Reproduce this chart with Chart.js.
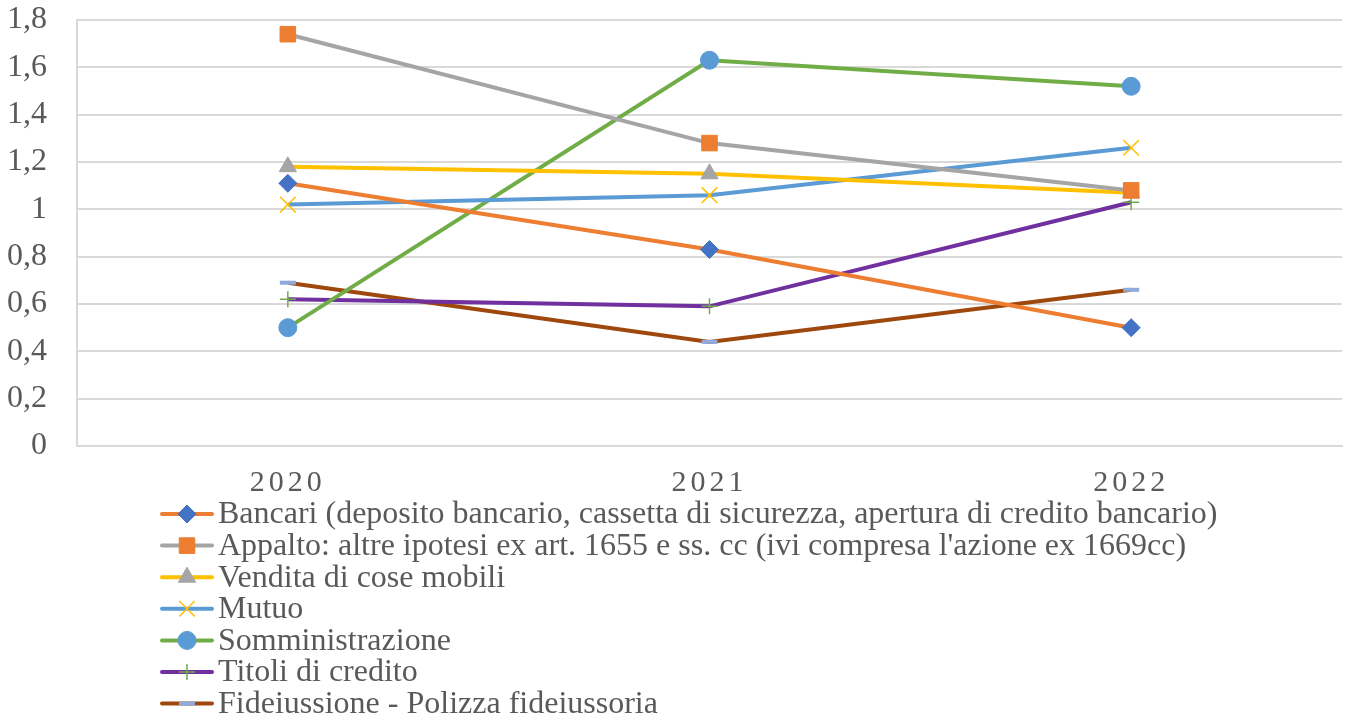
<!DOCTYPE html>
<html>
<head>
<meta charset="utf-8">
<script src="https://cdn.jsdelivr.net/npm/chart.js@4"></script>
<style>
  html, body { margin: 0; padding: 0; background: #ffffff; }
  #wrap { width: 1351px; height: 720px; }
</style>
</head>
<body>
<div id="wrap"><canvas id="lineChart" width="1351" height="720"></canvas></div>
<script>
// categorie e serie
const anni = ['2020', '2021', '2022'];

const bancari = [1.11, 0.83, 0.50];
const appalto = [1.74, 1.28, 1.08];
const vendita = [1.18, 1.15, 1.07];
const mutuo = [1.02, 1.06, 1.26];
const somministrazione = [0.50, 1.63, 1.52];
const titoli = [0.62, 0.59, 1.03];
const fideiussione = [0.69, 0.44, 0.66];

const nomiSerie = [
    'Bancari (deposito bancario, cassetta di sicurezza, apertura di credito bancario)',
    "Appalto: altre ipotesi ex art. 1655 e ss. cc (ivi compresa l'azione ex 1669cc)",
    'Vendita di cose mobili',
    'Mutuo',
    'Somministrazione',
    'Titoli di credito',
    'Fideiussione - Polizza fideiussoria'
];

const yTicks = [0, 0.2, 0.4, 0.6, 0.8, 1, 1.2, 1.4, 1.6, 1.8];

const FONT = "'Liberation Serif', 'Times New Roman', serif";
const TESTO = '#595959';

function serie(label, data, lineColor, style, markColor, radius, markBorder) {
    return {
        label: label,
        data: data,
        borderColor: lineColor,
        borderWidth: 4,
        pointStyle: style,
        pointRadius: radius,
        pointHoverRadius: radius,
        pointBackgroundColor: markColor,
        pointBorderColor: markColor,
        pointBorderWidth: markBorder,
        tension: 0,
        fill: false
    };
}

const datasets = [
    serie(nomiSerie[0], bancari, '#ED7D31', 'rectRot', '#4472C4', 9, 1),
    serie(nomiSerie[1], appalto, '#A5A5A5', 'rect', '#ED7D31', 11, 1),
    serie(nomiSerie[2], vendita, '#FFC000', 'triangle', '#A5A5A5', 10, 1),
    serie(nomiSerie[3], mutuo, '#5B9BD5', 'crossRot', '#FFC000', 11, 1.5),
    serie(nomiSerie[4], somministrazione, '#70AD47', 'circle', '#5B9BD5', 9, 1),
    serie(nomiSerie[5], titoli, '#7030A0', 'cross', '#70AD47', 8, 1.5),
    serie(nomiSerie[6], fideiussione, '#9E480E', 'line', '#8FAADC', 8, 4)
];

// etichette asse x spaziate + legenda verticale disegnata a mano
const extraPlugin = {
    id: 'extra',
    afterDraw(chart) {
        const ctx = chart.ctx;
        const xs = chart.scales.x;
        ctx.save();
        ctx.fillStyle = TESTO;
        ctx.font = '30px ' + FONT;
        ctx.textAlign = 'center';
        ctx.textBaseline = 'middle';
        ctx.letterSpacing = '4px';
        anni.forEach((a, i) => {
            ctx.fillText(a, xs.getPixelForValue(i), 483);
        });
        ctx.letterSpacing = '0px';

        // legenda
        ctx.font = '32px ' + FONT;
        ctx.textAlign = 'left';
        chart.data.datasets.forEach((ds, i) => {
            const y = 514 + i * 31.6;
            ctx.strokeStyle = ds.borderColor;
            ctx.lineWidth = 4;
            ctx.lineCap = 'round';
            ctx.beginPath();
            ctx.moveTo(162, y);
            ctx.lineTo(212, y);
            ctx.stroke();
            ctx.lineCap = 'butt';
            ctx.fillStyle = ds.pointBackgroundColor;
            ctx.strokeStyle = ds.pointBorderColor;
            ctx.lineWidth = ds.pointBorderWidth;
            Chart.helpers.drawPoint(ctx, {
                pointStyle: ds.pointStyle,
                radius: ds.pointRadius,
                rotation: 0,
                borderWidth: ds.pointBorderWidth
            }, 187, y);
            ctx.fillStyle = TESTO;
            ctx.fillText(ds.label, 218, y + 1);
        });
        ctx.restore();
    }
};

const ctx = document.getElementById('lineChart');
new Chart(ctx, {
    type: 'line',
    data: { labels: anni, datasets: datasets },
    options: {
        responsive: false,
        animation: false,
        layout: { autoPadding: false, padding: { top: 20, left: 7, right: 9, bottom: 274 } },
        plugins: {
            legend: { display: false },
            tooltip: { enabled: false }
        },
        scales: {
            x: {
                offset: true,
                grid: { display: false, drawTicks: false },
                border: { display: true, color: '#D9D9D9', width: 2 },
                ticks: { display: false }
            },
            y: {
                min: 0,
                max: 1.8,
                afterBuildTicks(scale) {
                    scale.ticks = yTicks.map(v => ({ value: v }));
                },
                afterFit(scale) {
                    scale.width = 70;
                    scale.paddingTop = 0;
                    scale.paddingBottom = 0;
                },
                grid: { color: '#D9D9D9', lineWidth: 2, drawTicks: false },
                border: { display: true, color: '#D9D9D9', width: 2 },
                ticks: {
                    padding: 30,
                    color: TESTO,
                    font: { family: FONT, size: 32 },
                    callback: v => (Math.round(v * 10) / 10).toString().replace('.', ',')
                }
            }
        }
    },
    plugins: [extraPlugin]
});
</script>
</body>
</html>
